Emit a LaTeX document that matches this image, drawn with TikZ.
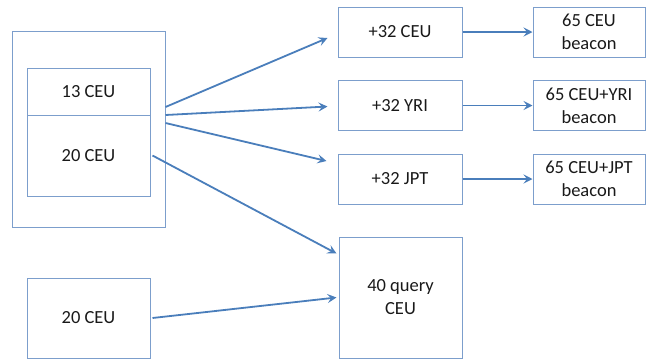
\documentclass[tikz,border=0pt]{standalone}
\usepackage{fontspec}
\setmainfont{Carlito}
\usetikzlibrary{arrows.meta}
\definecolor{boxblue}{RGB}{124,158,204}
\definecolor{arrowblue}{RGB}{74,126,187}
\tikzstyle{format}=[rectangle,draw=boxblue,line width=1pt,inner sep=0pt,align=center,text=black!90,font=\fontsize{18.5pt}{23pt}\selectfont]
\tikzstyle{link}=[-{Stealth[length=9pt,width=9pt,inset=3.5pt]},draw=arrowblue,line width=1.8pt]
\begin{document}
\begin{tikzpicture}[x=1pt,y=-1pt]
		\useasboundingbox (0,0) rectangle (646,360);
		\node[format,minimum width=153pt,minimum height=196pt] (pool) at (88.5,129) {};
		\node[format,minimum width=123pt,minimum height=47pt] (ceu13) at (88.5,91.5) {13 CEU};
		\node[format,minimum width=123pt,minimum height=81pt,below of=ceu13,node distance=64pt] (ceu20) {20 CEU};
		\node[format,minimum width=123pt,minimum height=80pt] (extra) at (88.5,318) {20 CEU};
		\node[format,minimum width=124pt,minimum height=50pt] (addceu) at (400,32) {+32 CEU};
		\node[format,minimum width=124pt,minimum height=50pt,below of=addceu,node distance=73.5pt] (addyri) {+32 YRI};
		\node[format,minimum width=124pt,minimum height=50pt,below of=addyri,node distance=73.5pt] (addjpt) {+32 JPT};
		\node[format,minimum width=112pt,minimum height=50pt,right of=addceu,node distance=189pt] (bceu) {65 CEU\\beacon};
		\node[format,minimum width=112pt,minimum height=50pt,right of=addyri,node distance=189pt] (byri) {65 CEU+YRI\\beacon};
		\node[format,minimum width=112pt,minimum height=50pt,right of=addjpt,node distance=189pt] (bjpt) {65 CEU+JPT\\beacon};
		\node[format,minimum width=123pt,minimum height=121pt] (query) at (400.5,297.5) {40 query\\CEU};
		\draw[link] ([yshift=22pt]pool.east)--([xshift=-10pt,yshift=-6pt]addceu.west);
		\draw[link] ([yshift=14pt]pool.east)--([xshift=-10pt,yshift=-1pt]addyri.west);
		\draw[link] ([yshift=6pt]pool.east)--([xshift=-11pt,yshift=18pt]addjpt.west);
		\draw[link] ([xshift=2pt]ceu20.east)--([xshift=-2pt,yshift=44pt]query.west);
		\draw[link] ([xshift=2pt]extra.east)--([xshift=-2pt]query.west);
		\draw[link] (addceu)--(bceu);
		\draw[link] (addyri)--(byri);
		\draw[link] (addjpt)--(bjpt);
	\end{tikzpicture}
\end{document}
